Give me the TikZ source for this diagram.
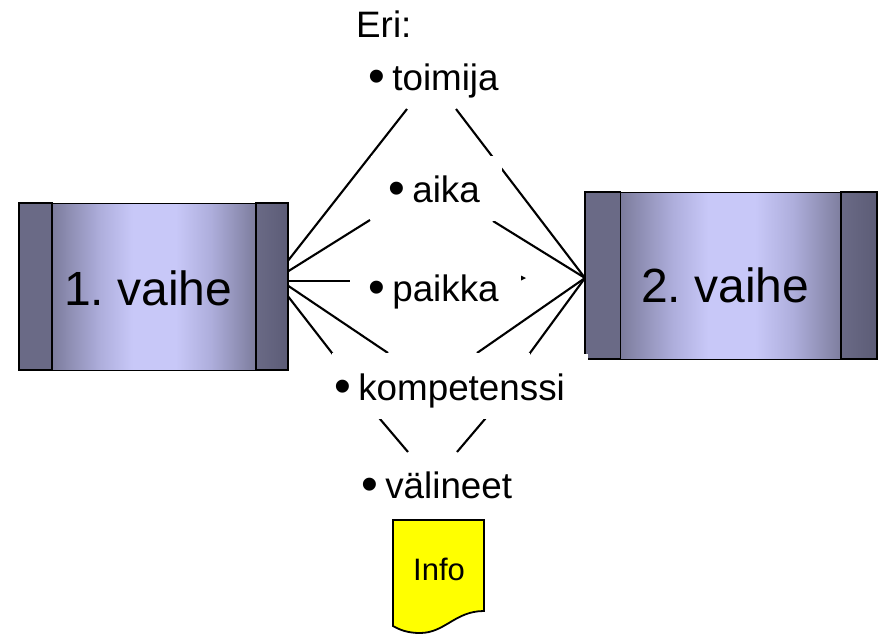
\documentclass[tikz,border=0pt]{standalone}
\usepackage{fontspec}
\setmainfont{Liberation Sans}
\definecolor{edgeblue}{HTML}{7C7C9C}
\definecolor{quartblue}{HTML}{AEAEDC}
\definecolor{midblue}{HTML}{C8C8F8}
\definecolor{barlight}{HTML}{6A6A86}
\definecolor{bardark}{HTML}{5C5C76}
\definecolor{docyellow}{HTML}{FFFF00}
\pgfdeclarehorizontalshading{stageshade}{100bp}{color(0bp)=(edgeblue); color(31bp)=(edgeblue); color(40bp)=(quartblue); color(46bp)=(midblue); color(54bp)=(midblue); color(60.5bp)=(quartblue); color(69bp)=(edgeblue); color(100bp)=(edgeblue)}
\tikzset{
  stagebox/.style={draw=black,line width=1.3pt,inner sep=0pt,shading=stageshade,anchor=north west},
  sidebar/.style={draw=black,line width=1.3pt},
  link/.style={draw=black,line width=2.1pt},
  maskarea/.style={fill=white,draw=none},
  stagetext/.style={font=\fontsize{48}{48}\selectfont,anchor=base west,inner sep=0pt},
  itemtext/.style={font=\fontsize{36.8}{36.8}\selectfont,anchor=base west,inner sep=0pt},
  infotext/.style={font=\fontsize{31}{31}\selectfont,anchor=base west,inner sep=0pt}
}
\newcommand{\itembullet}{\raisebox{-0.08em}{\scalebox{1.3}{\textbullet}}\hspace{0.2em}}
\frenchspacing
\begin{document}
\begin{tikzpicture}[x=1pt,y=-1pt]
\useasboundingbox (0,0) rectangle (881,633);
% hubs on the box edges and far ends of the connectors
\coordinate (h1a) at (287,262);
\coordinate (h1b) at (287,272);
\coordinate (h1c) at (287,281);
\coordinate (h1d) at (287,285);
\coordinate (h1e) at (287,295);
\coordinate (h2) at (585,278);
\coordinate (ttop1) at (407,109);
\coordinate (ttop2) at (456,109);
\coordinate (taika1) at (370,220);
\coordinate (taika2) at (493,221);
\coordinate (tpaik) at (350,281);
\coordinate (tkomp1) at (388,353);
\coordinate (tkomp2) at (477,353);
\coordinate (tval1) at (408,452);
\coordinate (tval2) at (457,452);
% connectors
\draw[link] (h1a) -- (ttop1);
\draw[link] (h2) -- (ttop2);
\draw[link] (h1b) -- (taika1);
\draw[link] (h2) -- (taika2);
\draw[link] (h1c) -- (tpaik);
\draw[link] (h1d) -- (tkomp1);
\draw[link] (h2) -- (tkomp2);
\draw[link] (h1e) -- (332,353) -- (380,419) -- (tval1);
\draw[link] (h2) -- (530,353) -- (485,419) -- (tval2);
% gaps
\fill[maskarea] (371,156) rectangle (502,221);
\fill[maskarea] (332,353) rectangle (530,419);
% little stub
\fill[black] (521,275.5) -- (526,278) -- (521,280.5) -- cycle;
% boxes
\node[stagebox,minimum width=269pt,minimum height=167pt] (v1) at (19,203) {};
\path[sidebar,left color=barlight,right color=barlight] (19,203) rectangle (52,370);
\path[sidebar,left color=barlight,right color=bardark] (256,203) rectangle (288,370);
\node[stagebox,minimum width=292pt,minimum height=167pt] (v2) at (585,192) {};
\path[sidebar,left color=barlight,right color=barlight] (585,192) rectangle (620.5,359);
\path[sidebar,left color=barlight,right color=bardark] (841,192) rectangle (877,359);
\fill[maskarea] (583,354) rectangle (587.5,361);
\node[stagetext] (l1) at (64,305) {1. vaihe};
\node[stagetext] (l2) at (641,302) {2. vaihe};
% texts
\node[itemtext] (eri) at (356,37) {Eri:};
\node[itemtext] (i1) at (368,90) {\itembullet toimija};
\node[itemtext] (i2) at (388,202) {\itembullet aika};
\node[itemtext] (i3) at (368,301) {\itembullet paikka};
\node[itemtext] (i4) at (334,400) {\itembullet kompetenssi};
\node[itemtext] (i5) at (361,498) {\itembullet välineet};
% document shape
\path[draw=black,line width=1.8pt,fill=docyellow] (393,520) -- (484,520) -- (484,611)
  .. controls (455,611) and (445,633) .. (420,633)
  .. controls (408,633) and (400,630) .. (393,626) -- cycle;
\node[infotext] (info) at (413,580) {Info};
\end{tikzpicture}
\end{document}
